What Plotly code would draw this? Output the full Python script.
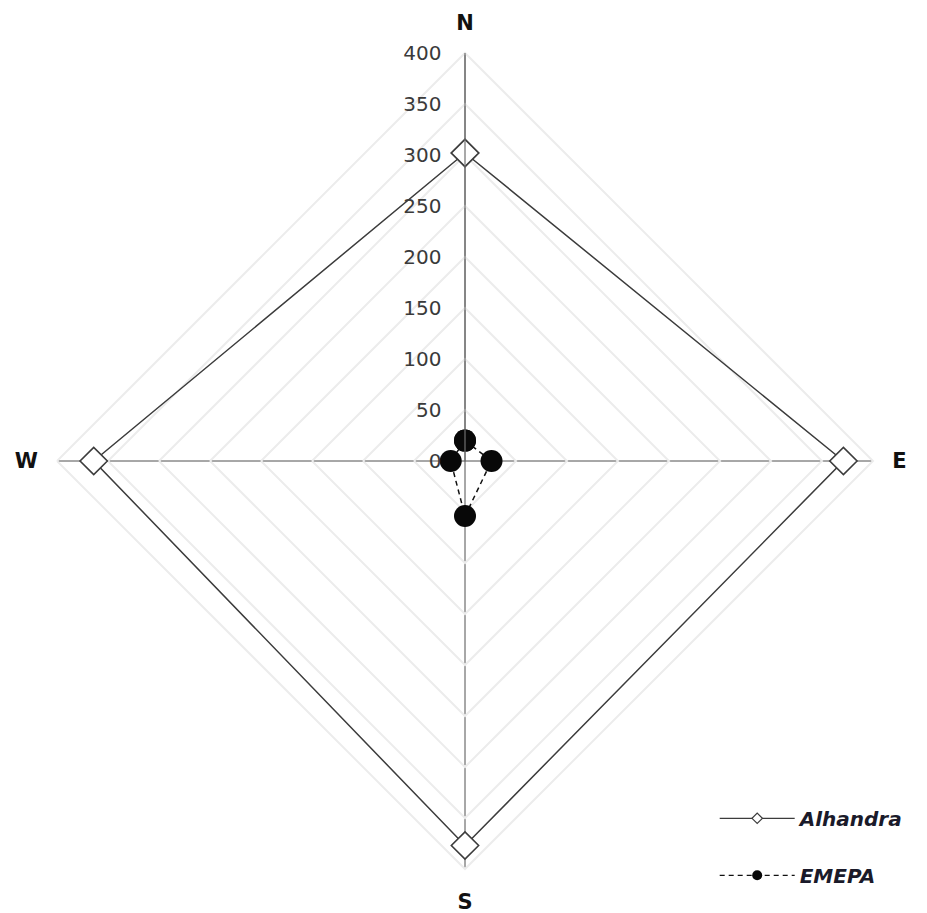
import plotly.graph_objects as go

# Wind-direction categories, clockwise from north
directions = ["N", "E", "S", "W"]

# Values per direction for each site
alhandra = [302, 371, 377, 364]
emepa = [20, 26, 54, 14]

radial_ticks = [0, 50, 100, 150, 200, 250, 300, 350, 400]


def closed(values):
    return values + values[:1]


theta = closed(directions)

alh_line = dict(color="#3c3c3c", width=1.5)
eme_line = dict(color="#111111", width=1.5, dash="5px,4px")

fig = go.Figure()

fig.add_trace(go.Scatterpolar(
    r=closed(alhandra),
    theta=theta,
    name="Alhandra",
    mode="lines+markers",
    line=alh_line,
    marker=dict(symbol="diamond", size=21, color="white",
                line=dict(color="#3c3c3c", width=1.6)),
    showlegend=False,
))

fig.add_trace(go.Scatterpolar(
    r=closed(emepa),
    theta=theta,
    name="EMEPA",
    mode="lines+markers",
    line=eme_line,
    marker=dict(symbol="circle", size=22, color="#080808",
                line=dict(color="#080808", width=0)),
    showlegend=False,
))

# Legend keys with small symbols, as in a spreadsheet-style legend
fig.add_trace(go.Scatterpolar(
    r=[None], theta=[None], name="Alhandra", mode="lines+markers",
    line=dict(color="#3c3c3c", width=1.3),
    marker=dict(symbol="diamond", size=8, color="white",
                line=dict(color="#3c3c3c", width=1.2)),
    legendgroup="a",
))
fig.add_trace(go.Scatterpolar(
    r=[None], theta=[None], name="EMEPA", mode="lines+markers",
    line=dict(color="#111111", width=1.3, dash="5px,4px"),
    marker=dict(symbol="circle", size=10, color="#080808",
                line=dict(color="#080808", width=0)),
    legendgroup="b",
))

grid_color = "#ececec"
spoke_color = "#505050"

fig.update_layout(
    width=927,
    height=913,
    paper_bgcolor="white",
    plot_bgcolor="white",
    margin=dict(l=57, r=54, t=53, b=44),
    polar=dict(
        domain=dict(x=[0, 1], y=[0, 1]),
        bgcolor="white",
        gridshape="linear",
        radialaxis=dict(
            range=[0, 400],
            tickvals=radial_ticks,
            ticktext=[str(v) for v in radial_ticks],
            angle=90,
            side="counterclockwise",
            showline=True,
            linecolor="#707070",
            linewidth=1.2,
            gridcolor=grid_color,
            gridwidth=2,
            ticks="outside",
            ticklen=16,
            tickcolor="rgba(0,0,0,0)",
            tickfont=dict(family="DejaVu Sans", size=20, color="#3a3a3a"),
            tickangle=90,
        ),
        angularaxis=dict(
            categoryarray=directions,
            categoryorder="array",
            direction="clockwise",
            rotation=90,
            showline=True,
            linecolor=grid_color,
            linewidth=2,
            gridcolor=spoke_color,
            gridwidth=1,
            ticks="outside",
            ticklen=14,
            tickcolor="rgba(0,0,0,0)",
            tickfont=dict(family="DejaVu Sans", size=21, color="#111111",
                          weight="bold"),
        ),
    ),
    legend=dict(
        x=0.806,
        y=0.086,
        xanchor="left",
        yanchor="top",
        bgcolor="rgba(0,0,0,0)",
        itemsizing="trace",
        itemwidth=75,
        tracegroupgap=28,
        font=dict(family="DejaVu Sans", size=20, color="#1a1a2a",
                  weight="bold", style="italic"),
    ),
    showlegend=True,
)

fig.write_html("out.html")
